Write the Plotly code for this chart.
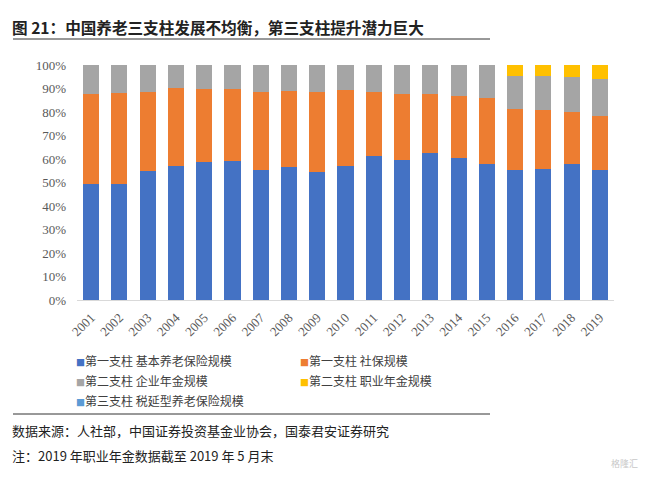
import plotly.graph_objects as go

years = ["2001", "2002", "2003", "2004", "2005", "2006", "2007", "2008", "2009", "2010",
         "2011", "2012", "2013", "2014", "2015", "2016", "2017", "2018", "2019"]

series_names = ["第一支柱 基本养老保险规模", "第一支柱 社保规模", "第二支柱 企业年金规模",
                "第二支柱 职业年金规模", "第三支柱 税延型养老保险规模"]
series_colors = ["#4472C4", "#ED7D31", "#A5A5A5", "#FFC000", "#5B9BD5"]

basic_pension = [49.4, 49.4, 54.9, 57.0, 58.7, 59.3, 55.2, 56.5, 54.5, 57.0,
                 61.1, 59.7, 62.6, 60.4, 57.9, 55.5, 55.9, 57.9, 55.2]
social_security = [38.1, 38.7, 33.6, 33.4, 31.2, 30.6, 33.3, 32.3, 34.2, 32.5,
                   27.6, 28.1, 25.2, 26.4, 28.2, 25.9, 25.0, 22.2, 23.2]
enterprise_annuity = [12.5, 11.9, 11.5, 9.6, 10.1, 10.1, 11.5, 11.2, 11.3, 10.5,
                      11.3, 12.2, 12.2, 13.2, 13.9, 14.1, 14.3, 14.7, 15.8]
occupational_annuity = [0, 0, 0, 0, 0, 0, 0, 0, 0, 0,
                        0, 0, 0, 0, 0, 4.5, 4.8, 5.2, 5.8]
tax_deferred = [0, 0, 0, 0, 0, 0, 0, 0, 0, 0,
                0, 0, 0, 0, 0, 0, 0, 0, 0]

y_ticks = [0, 10, 20, 30, 40, 50, 60, 70, 80, 90, 100]
y_tick_labels = ["0%", "10%", "20%", "30%", "40%", "50%", "60%", "70%", "80%", "90%", "100%"]

title_text = "图 21：中国养老三支柱发展不均衡，第三支柱提升潜力巨大"
source_text = "数据来源：人社部，中国证券投资基金业协会，国泰君安证券研究"
note_text = "注：2019 年职业年金数据截至 2019 年 5 月末"

all_series = [basic_pension, social_security, enterprise_annuity, occupational_annuity, tax_deferred]

W, H = 650, 477
L, R, T, B = 77, 36, 65, 177
pw, ph = W - L - R, H - T - B


def px(x):
    return (x - L) / pw


def py(y):
    return (H - B - y) / ph


fig = go.Figure()
for name, color, vals in zip(series_names, series_colors, all_series):
    fig.add_trace(go.Bar(x=years, y=vals, name=name, marker=dict(color=color, line=dict(width=0)),
                         showlegend=False))

annotations = []
# legend entries (2 columns)
leg_pos = [(74, 360), (298, 360), (74, 380), (298, 380), (74, 400)]
for (lx, ly), name, color in zip(leg_pos, series_names, series_colors):
    annotations.append(dict(
        x=px(lx), y=py(ly), xref="paper", yref="paper", xanchor="left", yanchor="middle",
        text=f'<span style="color:{color};font-size:9px">■</span>{name}',
        showarrow=False, font=dict(family="Noto Sans CJK SC", size=12, color="#404040")))

annotations.append(dict(x=px(10), y=py(27), xref="paper", yref="paper", xanchor="left",
                        yanchor="middle", text=f"<b>{title_text}</b>", showarrow=False,
                        font=dict(family="Noto Sans CJK SC", size=15.6, color="#222222")))
annotations.append(dict(x=px(10), y=py(430), xref="paper", yref="paper", xanchor="left",
                        yanchor="middle", text=source_text, showarrow=False,
                        font=dict(family="Noto Sans CJK SC", size=13, color="#222222")))
annotations.append(dict(x=px(10), y=py(455), xref="paper", yref="paper", xanchor="left",
                        yanchor="middle", text=note_text, showarrow=False,
                        font=dict(family="Noto Sans CJK SC", size=13, color="#222222")))
annotations.append(dict(x=px(640), y=py(463), xref="paper", yref="paper", xanchor="right",
                        yanchor="middle", text="格隆汇", showarrow=False,
                        font=dict(family="Noto Sans CJK SC", size=9, color="#C8C8C8")))

shapes = [
    dict(type="line", xref="paper", yref="paper", x0=px(13), x1=px(490), y0=py(39), y1=py(39),
         line=dict(color="#333333", width=1)),
    dict(type="line", xref="paper", yref="paper", x0=px(13), x1=px(490), y0=py(414), y1=py(414),
         line=dict(color="#333333", width=1)),
]

fig.update_layout(
    width=W, height=H,
    margin=dict(l=L, r=R, t=T, b=B, autoexpand=False),
    barmode="stack", bargap=0.43,
    plot_bgcolor="white", paper_bgcolor="white",
    annotations=annotations, shapes=shapes,
    showlegend=False,
)
fig.update_xaxes(
    type="category", tickangle=-45, showgrid=False,
    showline=True, linecolor="#D9D9D9", linewidth=1, ticks="", ticklabelstandoff=4,
    tickfont=dict(family="Liberation Serif", size=13, color="#595959"),
)
fig.update_yaxes(
    range=[0, 100], tickvals=y_ticks, ticktext=y_tick_labels, showgrid=False,
    zeroline=False, showline=False, ticks="", ticklabelstandoff=10,
    tickfont=dict(family="Liberation Serif", size=13, color="#595959"),
)

fig.write_html("out.html", config={"displayModeBar": False},
               post_script="document.body.style.margin='0';document.body.style.padding='0';")
